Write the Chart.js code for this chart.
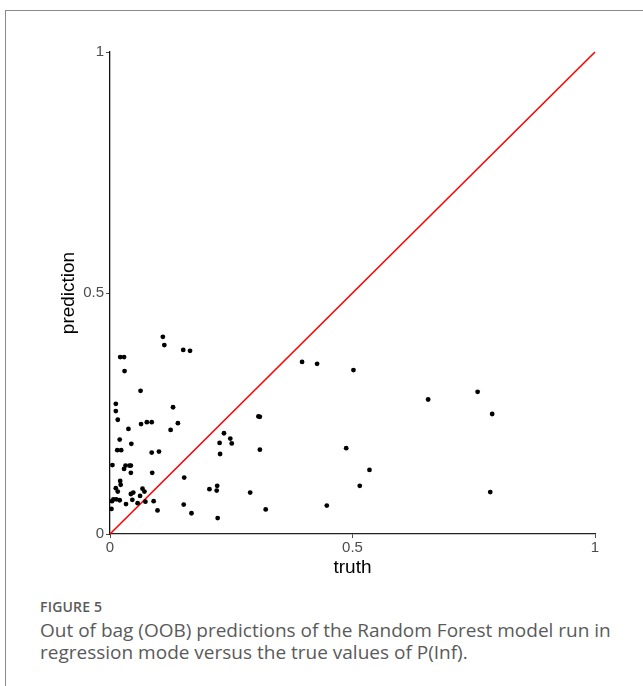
<!DOCTYPE html>
<html>
<head>
<meta charset="utf-8">
<script src="https://cdn.jsdelivr.net/npm/chart.js@4.4.0/dist/chart.umd.min.js"></script>
<style>
  html, body { margin: 0; padding: 0; background: #fff; }
  body { width: 643px; height: 686px; position: relative; overflow: hidden; }
  #frame { position: absolute; left: 5px; top: 10px; width: 700px; height: 700px; border: 1px solid #8a8a8a; box-sizing: border-box; }
  #chartBox { position: absolute; left: 0; top: 0; width: 643px; height: 580px; }
  #figLabel { position: absolute; left: 40px; top: 597px; font-family: "Open Sans", sans-serif; font-size: 14px; font-weight: 600; color: #5a5a5a; letter-spacing: 0.2px; }
  #caption { position: absolute; left: 40px; top: 619px; width: 600px; font-family: "Open Sans", sans-serif; font-size: 19px; line-height: 22px; color: #5a5a5a; }
</style>
</head>
<body>
<div id="frame"></div>
<div id="chartBox"><canvas id="c" width="643" height="580"></canvas></div>
<div id="figLabel">FIGURE 5</div>
<div id="caption">Out of bag (OOB) predictions of the Random Forest model run in regression mode versus the true values of P(Inf).</div>
<script>
// Observed truth values (x) and OOB predictions (y)
const truthValues = [
  0.109, 0.112, 0.151, 0.165, 0.021, 0.029, 0.030, 0.063, 0.012, 0.012,
  0.130, 0.016, 0.038, 0.064, 0.076, 0.086, 0.125, 0.140, 0.020, 0.044,
  0.015, 0.023, 0.086, 0.101, 0.005, 0.032, 0.040, 0.043, 0.029, 0.043,
  0.087, 0.021, 0.022, 0.012, 0.016, 0.048, 0.067, 0.071, 0.043, 0.062,
  0.007, 0.013, 0.004, 0.020, 0.046, 0.033, 0.057, 0.073, 0.090, 0.003,
  0.098, 0.152, 0.168, 0.153, 0.205, 0.221, 0.220, 0.222, 0.226, 0.227,
  0.235, 0.248, 0.251, 0.306, 0.309, 0.309, 0.289, 0.321, 0.396, 0.427,
  0.447, 0.487, 0.502, 0.535, 0.515, 0.656, 0.758, 0.788, 0.784
];
const predictionValues = [
  0.409, 0.392, 0.382, 0.380, 0.367, 0.367, 0.338, 0.297, 0.270, 0.255,
  0.263, 0.237, 0.218, 0.228, 0.232, 0.232, 0.216, 0.230, 0.196, 0.187,
  0.174, 0.174, 0.169, 0.171, 0.143, 0.142, 0.142, 0.142, 0.135, 0.127,
  0.127, 0.110, 0.102, 0.095, 0.088, 0.086, 0.094, 0.088, 0.083, 0.079,
  0.072, 0.072, 0.068, 0.070, 0.071, 0.062, 0.064, 0.067, 0.068, 0.052,
  0.049, 0.061, 0.043, 0.117, 0.093, 0.100, 0.090, 0.033, 0.189, 0.166,
  0.209, 0.198, 0.188, 0.244, 0.243, 0.175, 0.086, 0.051, 0.357, 0.353,
  0.059, 0.178, 0.340, 0.133, 0.100, 0.279, 0.295, 0.249, 0.087
];
const identityLine = [0, 1];
const tickValues = [0, 0.5, 1];
const tickLabels = ['0', '0.5', '1'];
const xTitle = 'truth';
const yTitle = 'prediction';

const points = truthValues.map((t, i) => ({ x: t, y: predictionValues[i] }));
const linePts = identityLine.map(v => ({ x: v, y: v }));

const tickFont = { family: '"Liberation Sans", Arial, sans-serif', size: 15 };
const titleFont = { family: '"Liberation Sans", Arial, sans-serif', size: 19 };
const fmt = v => { const i = tickValues.indexOf(v); return i >= 0 ? tickLabels[i] : ''; };

new Chart(document.getElementById('c'), {
  type: 'scatter',
  data: {
    datasets: [
      {
        type: 'line',
        data: linePts,
        borderColor: '#ff0000',
        borderWidth: 1.6,
        pointRadius: 0,
        fill: false,
        clip: false,
        order: 2
      },
      {
        data: points,
        backgroundColor: '#000',
        borderColor: '#000',
        pointRadius: 2.4,
        borderWidth: 0,
        clip: false,
        order: 1
      }
    ]
  },
  options: {
    responsive: false,
    animation: false,
    events: [],
    layout: { padding: { top: 52, right: 48, left: 0, bottom: 0 } },
    plugins: { legend: { display: false }, tooltip: { enabled: false } },
    scales: {
      x: {
        type: 'linear',
        min: 0, max: 1,
        afterFit: s => { s.height = 46; },
        afterBuildTicks: s => { s.ticks = tickValues.map(v => ({ value: v })); },
        ticks: { font: tickFont, color: '#4d4d4d', padding: 1, maxRotation: 0, autoSkip: false, callback: fmt },
        grid: { display: true, drawOnChartArea: false, tickLength: 4, tickColor: '#4d4d4d', tickWidth: 1 },
        border: { display: true, color: '#222', width: 1.3 },
        title: { display: true, text: xTitle, font: titleFont, color: '#000', padding: { top: 0, bottom: 1 } }
      },
      y: {
        type: 'linear',
        min: 0, max: 1,
        afterFit: s => { s.width = 110; },
        afterBuildTicks: s => { s.ticks = tickValues.map(v => ({ value: v })); },
        ticks: { font: tickFont, color: '#4d4d4d', padding: 2, autoSkip: false, callback: fmt },
        grid: { display: true, drawOnChartArea: false, tickLength: 4, tickColor: '#4d4d4d', tickWidth: 1 },
        border: { display: true, color: '#111', width: 1.3 },
        title: { display: true, text: yTitle, font: titleFont, color: '#000', padding: { top: 57, bottom: 0 } }
      }
    }
  }
});
</script>
</body>
</html>
